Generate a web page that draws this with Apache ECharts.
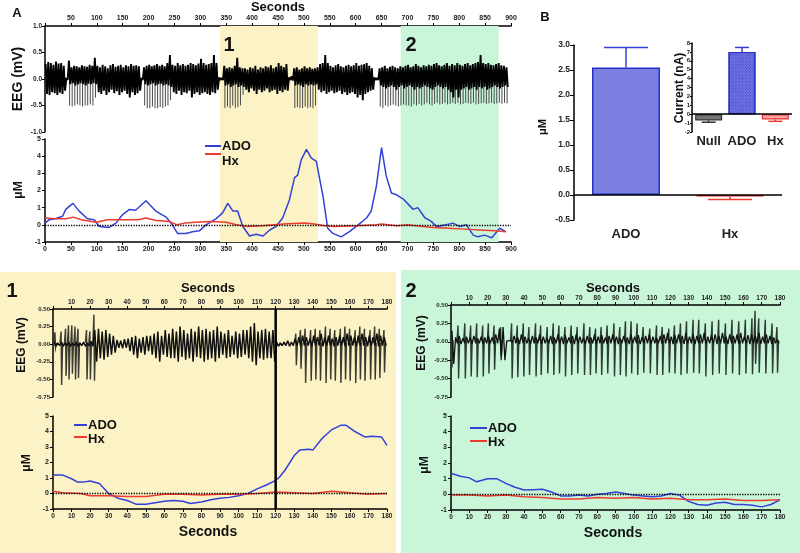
<!DOCTYPE html>
<html><head><meta charset="utf-8">
<script src="https://cdn.jsdelivr.net/npm/echarts@6/dist/echarts.min.js"></script>
<style>html,body{margin:0;padding:0;background:#fff}#c{width:800px;height:553px}</style>
</head><body><div id="c"></div>
<script>
// ---------------- DATA ----------------
// Panel A: EEG envelope, 5 s bins (upper / lower edge of dense activity), 0-900 s
const eegA_hi = [0.28,0.32,0.30,0.27,0.33,0.29,0.30,0.25,
0.02,
0.35,0.22,0.25,0.24,0.22,0.26,0.24,0.23,0.27,0.25,
0.40,
0.25,0.22,0.27,0.24,0.20,0.26,0.28,0.23,0.25,0.27,0.22,0.26,0.24,0.28,0.25,0.26,0.24,
0.02,
0.22,0.25,0.27,0.24,0.26,0.28,0.25,0.27,0.24,0.30,0.45,
0.27,0.25,0.30,0.26,0.28,0.25,0.27,0.30,0.28,0.26,0.29,0.38,0.30,0.27,0.28,0.30,0.45,0.30,
0.03,0.02,
0.25,0.20,0.22,0.20,0.25,0.40,0.22,0.20,
0.20,0.18,0.22,0.20,0.25,0.18,0.22,0.20,0.24,0.22,0.26,0.20,0.23,0.30,0.25,0.22,0.28,
0.03,0.05,
0.20,0.22,0.18,0.20,0.24,0.20,0.22,0.19,0.20,
0.22,0.28,0.30,0.45,0.30,0.25,0.22,0.26,0.28,0.24,0.22,0.25,0.27,0.24,0.26,0.30,0.25,0.27,0.28,0.30,0.25,0.20,
0.03,0.02,
0.20,0.22,0.25,0.20,0.23,0.25,0.22,0.20,0.24,0.22,0.25,0.27,0.22,0.24,0.28,0.25,0.22,0.26,0.24,0.27,0.25,0.28,0.30,0.26,0.24,0.27,0.30,0.25,0.28,0.26,0.30,0.27,0.25,0.28,0.30,0.26,0.28,0.30,0.32,0.45,0.30,0.28,0.30,0.27,0.26,0.28,0.30,0.26,0.25,0.22,
null];
const eegA_lo = [-0.28,-0.30,-0.25,-0.27,-0.30,-0.26,-0.28,-0.22,
-0.02,
-0.10,-0.08,-0.12,-0.10,-0.08,-0.10,-0.12,-0.09,-0.10,-0.08,
-0.10,
-0.25,-0.28,-0.22,-0.30,-0.25,-0.20,-0.27,-0.23,-0.30,-0.25,-0.22,-0.28,-0.35,-0.25,-0.30,-0.27,-0.22,
-0.02,
-0.10,-0.12,-0.10,-0.08,-0.12,-0.10,-0.09,-0.12,-0.10,-0.12,-0.15,
-0.25,-0.28,-0.22,-0.30,-0.25,-0.27,-0.22,-0.35,-0.28,-0.25,-0.30,-0.27,-0.25,-0.28,-0.30,-0.25,-0.27,-0.20,
-0.02,-0.02,
-0.12,-0.10,-0.15,-0.12,-0.10,-0.15,-0.12,-0.15,
-0.20,-0.25,-0.18,-0.22,-0.28,-0.20,-0.25,-0.22,-0.18,-0.25,-0.22,-0.20,-0.28,-0.22,-0.25,-0.20,-0.22,
-0.02,-0.03,
-0.12,-0.10,-0.12,-0.15,-0.10,-0.12,-0.10,-0.12,-0.10,
-0.20,-0.25,-0.22,-0.28,-0.25,-0.22,-0.27,-0.25,-0.22,-0.28,-0.25,-0.30,-0.27,-0.25,-0.28,-0.35,-0.30,-0.40,-0.28,-0.25,-0.22,-0.20,
-0.02,-0.02,
-0.12,-0.15,-0.18,-0.15,-0.12,-0.15,-0.20,-0.15,-0.12,-0.18,-0.15,-0.12,-0.15,-0.20,-0.15,-0.18,-0.15,-0.12,-0.15,-0.18,-0.20,-0.15,-0.12,-0.15,-0.18,-0.15,-0.20,-0.25,-0.35,-0.20,-0.35,-0.20,-0.18,-0.15,-0.20,-0.18,-0.15,-0.20,-0.15,-0.18,-0.15,-0.20,-0.18,-0.15,-0.12,-0.15,-0.18,-0.15,-0.12,-0.15,
null];
// Panel A: spike-wave discharge minima [s, mV]
const eegA_spikes = [
[47.5,-0.50],[52.5,-0.52],[57.5,-0.50],[62.5,-0.48],[67.5,-0.50],[72.5,-0.52],[77.5,-0.50],[82.5,-0.50],[87.5,-0.48],[92.5,-0.50],[97.5,-0.35],
[192.5,-0.50],[197.5,-0.55],[202.5,-0.55],[207.5,-0.52],[212.5,-0.55],[217.5,-0.55],[222.5,-0.53],[227.5,-0.55],[232.5,-0.52],[237.5,-0.50],[242.5,-0.40],
[347.5,-0.55],[352.5,-0.52],[357.5,-0.55],[362.5,-0.50],[367.5,-0.55],[372.5,-0.53],[377.5,-0.50],[382.5,-0.30],
[482.5,-0.55],[487.5,-0.53],[492.5,-0.55],[497.5,-0.55],[502.5,-0.52],[507.5,-0.55],[512.5,-0.53],[517.5,-0.55],[522.5,-0.50],
[647.5,-0.52],[652.5,-0.55],[657.5,-0.50],[662.5,-0.52],[667.5,-0.50],[672.5,-0.48],[677.5,-0.50],[682.5,-0.52],[687.5,-0.50],[692.5,-0.48],
[697.5,-0.50],[702.5,-0.50],[707.5,-0.52],[712.5,-0.48],[717.5,-0.50],[722.5,-0.47],[727.5,-0.50],[732.5,-0.48],[737.5,-0.45],[742.5,-0.48],
[747.5,-0.50],[752.5,-0.47],[757.5,-0.45],[762.5,-0.48],[767.5,-0.47],[772.5,-0.45],[777.5,-0.48],[782.5,-0.47],[787.5,-0.45],[792.5,-0.47],
[797.5,-0.45],[802.5,-0.48],[807.5,-0.47],[812.5,-0.45],[817.5,-0.46],[822.5,-0.47],[827.5,-0.45],[832.5,-0.48],[837.5,-0.47],[842.5,-0.46],
[847.5,-0.45],[852.5,-0.47],[857.5,-0.46],[862.5,-0.45],[867.5,-0.47],[872.5,-0.46],[877.5,-0.45],[882.5,-0.47],[887.5,-0.45],[892.5,-0.46]];
// Panel A: concentration traces [s, uM]
const adoA = [[0,0.1],[8,0.3],[20,0.35],[34,0.5],[40,0.9],[54,1.25],[66,0.8],[82,0.35],[95,0.3],[105,-0.1],[124,-0.15],[137,0.1],[150,0.6],[163,0.9],[175,0.85],[195,1.4],[214,0.8],[234,0.45],[246,0],[256,-0.5],[272,-0.5],[285,-0.4],[298,-0.35],[311,0],[330,0.35],[343,0.7],[353,1.25],[363,0.8],[372,0.8],[382,-0.1],[395,-0.65],[408,-0.55],[421,-0.65],[434,-0.3],[446,-0.1],[459,0.4],[472,1.45],[482,2.75],[488,2.9],[495,3.8],[505,4.4],[514,3.9],[524,3.7],[537,1.65],[546,-0.2],[556,-0.5],[572,-0.7],[588,-0.4],[605,0],[621,0.4],[630,0.8],[640,2.25],[650,4.5],[659,2.85],[669,1.85],[679,1.75],[692,1.5],[711,0.9],[720,1.0],[734,0.4],[746,0.2],[756,-0.1],[775,0],[788,0.1],[801,-0.1],[814,0],[827,-0.6],[836,-0.7],[849,-0.6],[863,-0.75],[878,-0.2],[890,-0.4]];
const hxA = [[0,0.4],[20,0.35],[40,0.35],[55,0.45],[70,0.3],[90,0.2],[100,0.15],[120,0.3],[150,0.3],[180,0.3],[195,0.4],[215,0.25],[240,0.2],[255,0],[270,0.1],[290,0.15],[320,0.2],[350,0.15],[370,0],[390,-0.1],[420,-0.05],[460,0.05],[500,0.1],[520,0.05],[540,-0.05],[560,-0.1],[600,-0.05],[640,0],[650,0.05],[680,-0.05],[700,0],[730,-0.1],[750,-0.15],[780,-0.2],[810,-0.25],[840,-0.3],[870,-0.35],[890,-0.4]];
const shadeA = [[338,527],[687,876]];

// Panel B
const bCats = ['ADO','Hx'];
const bVals = [2.55,-0.03];
const bErr  = [2.95,-0.09];
const inCats = ['Null','ADO','Hx'];
const inVals = [-0.7,7.0,-0.6];
const inErr  = [-0.9,7.5,-0.8];

// Panel 1: EEG envelope, 2 s bins, 0-180 s
const eeg1_hi = [0.03,0.02,0.03,0.02,0.03,0.02,0.03,0.02,0.03,0.02,0.04,
0.20,
0.22,0.18,0.20,0.15,0.12,
0.06,0.05,0.07,
0.08,0.10,0.12,0.08,0.10,0.12,
0.12,0.15,0.18,0.12,0.20,0.15,
0.22,0.18,0.25,0.20,0.15,0.22,0.18,0.25,0.20,0.22,0.18,0.20,0.25,
0.18,0.15,0.20,0.12,0.18,0.15,0.20,
0.20,0.25,0.30,0.18,0.20,0.22,0.18,0.20,
0.03,0.02,0.03,0.05,0.03,
0.08,0.10,0.12,0.10,0.08,0.12,0.10,0.15,0.10,0.12,0.08,0.10,0.12,0.10,0.15,0.12,0.10,0.12,0.15,0.10,0.12,0.10,0.15,0.12,0.10];
const eeg1_lo = [-0.03,-0.02,-0.03,-0.02,-0.03,-0.02,-0.03,-0.02,-0.03,-0.02,-0.03,
-0.25,
-0.20,-0.22,-0.18,-0.15,-0.12,
-0.05,-0.06,-0.05,
-0.10,-0.15,-0.20,-0.12,-0.15,-0.10,
-0.15,-0.20,-0.25,-0.15,-0.18,-0.20,
-0.20,-0.25,-0.18,-0.22,-0.20,-0.25,-0.18,-0.20,-0.25,-0.22,-0.20,-0.25,-0.20,
-0.15,-0.20,-0.18,-0.15,-0.20,-0.18,-0.15,
-0.20,-0.25,-0.30,-0.20,-0.22,-0.20,-0.20,-0.25,
-0.03,-0.02,-0.02,-0.03,-0.02,
-0.02,-0.03,-0.02,-0.02,-0.03,-0.02,-0.02,-0.03,-0.02,-0.02,-0.03,-0.02,-0.02,-0.03,-0.02,-0.02,-0.03,-0.02,-0.02,-0.03,-0.02,-0.02,-0.03,-0.02,-0.02];
// Panel 1: individual spike-wave complexes [s, peak mV, trough mV]
const eeg1_spikes = [[1.2,0.17,-0.05],[4.5,0.18,-0.58],[6.9,0.22,-0.45],[8.5,0.27,-0.50],[10.3,0.27,-0.42],[12.0,0.25,-0.50],[13.6,0.22,-0.48],[18.2,0.20,-0.50],[20.0,0.18,-0.50],[22.2,0.42,-0.52],
[131,0.15,-0.30],[133.5,0.20,-0.35],[136,0.22,-0.55],[139,0.20,-0.52],[141.5,0.22,-0.50],[144,0.20,-0.52],[147,0.25,-0.55],[149.5,0.22,-0.50],[152,0.20,-0.52],[155,0.22,-0.55],[157.5,0.25,-0.50],[160,0.22,-0.52],[163,0.20,-0.55],[165.5,0.25,-0.50],[168,0.22,-0.52],[171,0.20,-0.50],[173.5,0.25,-0.50],[176,0.22,-0.48],[178.5,0.20,-0.40]];
const divider1 = [[120,0]];
const ado1 = [[0,1.2],[5,1.2],[10,0.95],[13,0.75],[17,0.75],[20,0.8],[25,0.65],[30,0],[35,-0.3],[40,-0.45],[45,-0.7],[50,-0.7],[55,-0.6],[60,-0.5],[65,-0.45],[70,-0.5],[74,-0.65],[80,-0.55],[85,-0.4],[90,-0.3],[95,-0.25],[100,-0.15],[105,0],[110,0.3],[115,0.55],[120,0.85],[122,1.05],[125,1.5],[130,2.45],[133,2.8],[138,2.85],[140,2.8],[145,3.55],[150,4.1],[155,4.4],[158,4.4],[162,4.05],[168,3.65],[172,3.7],[177,3.65],[180,3.1]];
const hx1 = [[0,0.15],[5,0.05],[15,0],[20,-0.15],[30,-0.15],[40,-0.2],[50,-0.2],[60,-0.05],[70,-0.05],[80,-0.1],[90,-0.05],[100,-0.05],[110,0],[120,0.1],[130,0.05],[140,0],[150,0.15],[160,0.05],[170,-0.05],[180,0]];

// Panel 2
const eeg2_hi = [0.15,0.06,0.08,0.05,0.07,0.06,0.08,0.05,0.07,0.06,0.08,0.06,0.10,
0.18,0.20,
0.01,0.02,
0.08,0.06,0.10,0.07,0.05,0.08,0.06,0.10,0.07,0.05,
0.08,0.06,0.10,0.07,0.09,0.06,0.08,0.10,0.07,0.05,
0.08,0.06,0.10,0.07,0.09,0.06,0.08,0.10,0.07,0.05,
0.08,0.06,0.10,0.07,0.09,0.06,0.08,0.10,0.07,0.05,
0.08,0.10,0.12,0.07,0.09,0.10,0.08,0.12,0.07,0.10,
0.08,0.10,0.12,0.07,0.09,0.10,0.08,0.12,0.07,0.10,
0.08,0.10,0.12,0.07,0.09,0.10,0.08,0.12,0.07,0.10,
0.08,0.06,0.03];
const eeg2_lo = [-0.30,-0.02,-0.03,-0.02,-0.02,-0.03,-0.02,-0.02,-0.03,-0.02,-0.02,-0.03,-0.02,
-0.20,-0.25,
-0.01,-0.01,
-0.02,-0.03,-0.02,-0.02,-0.03,-0.02,-0.02,-0.03,-0.02,-0.02,
-0.03,-0.02,-0.02,-0.03,-0.02,-0.02,-0.03,-0.02,-0.02,-0.03,
-0.02,-0.02,-0.03,-0.02,-0.02,-0.03,-0.02,-0.02,-0.03,-0.02,
-0.02,-0.03,-0.02,-0.02,-0.03,-0.02,-0.02,-0.03,-0.02,-0.02,
-0.03,-0.02,-0.02,-0.03,-0.02,-0.02,-0.03,-0.02,-0.02,-0.03,
-0.02,-0.02,-0.03,-0.02,-0.02,-0.03,-0.02,-0.02,-0.03,-0.02,
-0.02,-0.03,-0.02,-0.02,-0.03,-0.02,-0.02,-0.03,-0.02,-0.02,
-0.03,-0.02,-0.02];
const eeg2_spikes = [[0.4,0.15,-0.35],[4.0,0.22,-0.50],[7.7,0.25,-0.50],[10.9,0.22,-0.47],[14.2,0.25,-0.48],[17.5,0.22,-0.47],[20.6,0.25,-0.43],[23.7,0.22,-0.38],[27.3,0.20,-0.25],
[33.3,0.25,-0.50],[36.4,0.22,-0.48],[39.7,0.25,-0.47],[42.8,0.20,-0.45],[46.4,0.25,-0.47],[49.2,0.22,-0.45],[52.8,0.20,-0.43],[56.1,0.25,-0.45],[59.2,0.22,-0.43],[62.5,0.20,-0.47],[65.9,0.22,-0.45],[69.2,0.20,-0.43],[72.9,0.25,-0.45],[76.1,0.20,-0.45],[79.2,0.18,-0.43],[82.3,0.20,-0.45],[85.6,0.22,-0.43],[89.3,0.25,-0.47],[92.5,0.20,-0.45],[95.6,0.28,-0.47],[98.7,0.28,-0.43],[102.0,0.25,-0.45],[105.3,0.20,-0.42],[108.9,0.18,-0.43],[112.6,0.22,-0.45],[115.7,0.20,-0.45],[119.3,0.18,-0.42],[122.4,0.22,-0.43],[125.7,0.25,-0.45],[129.0,0.28,-0.43],[132.6,0.30,-0.42],[135.7,0.30,-0.43],[139.3,0.25,-0.47],[143.0,0.28,-0.45],[146.6,0.30,-0.43],[150.3,0.25,-0.45],[153.9,0.30,-0.43],[157.6,0.28,-0.45],[161.2,0.30,-0.43],[164.8,0.32,-0.44],[166.5,0.42,-0.30],[168.5,0.32,-0.42],[172.1,0.30,-0.43],[175.8,0.25,-0.43],[178.5,0.20,-0.42]];
const ado2 = [[0,1.35],[5,1.15],[10,1.05],[14,0.8],[20,1.0],[25,1.0],[30,0.7],[35,0.45],[40,0.28],[45,0.3],[50,0.32],[55,0.15],[60,-0.1],[65,-0.1],[70,-0.05],[75,-0.1],[80,0],[85,0.05],[90,0.15],[95,0.05],[100,-0.05],[105,-0.1],[110,-0.15],[115,-0.1],[120,0.05],[125,-0.05],[130,-0.45],[135,-0.65],[140,-0.7],[145,-0.55],[150,-0.5],[155,-0.65],[160,-0.65],[165,-0.7],[170,-0.8],[175,-0.65],[180,-0.35]];
const hx2 = [[0,-0.05],[10,-0.05],[20,-0.1],[30,-0.05],[40,-0.15],[50,-0.2],[60,-0.3],[70,-0.3],[80,-0.2],[90,-0.25],[100,-0.2],[110,-0.3],[120,-0.25],[130,-0.35],[140,-0.35],[150,-0.3],[160,-0.4],[170,-0.4],[180,-0.35]];

// ---------------- STYLE / HELPERS ----------------
const FONT = '"Liberation Sans", Arial, Helvetica, sans-serif';
const BLUE = '#3440d6', RED = '#ee3b2e';
const YEL = '#fbf3c6', GRN = '#c9f6d9';

function zig(hi, lo, t0, step) {
  const d = [];
  for (let i = 0; i < hi.length; i++) {
    const t = t0 + i * step;
    if (hi[i] == null) { d.push([t + step / 2, null]); continue; }
    d.push([t + step * 0.25, hi[i]]);
    d.push([t + step * 0.75, lo[i]]);
  }
  return d;
}
function grid(l, t, w, h) { return {left: l, top: t, width: w, height: h, containLabel: false, outerBoundsMode: 'none'}; }
const lab = (size, fmt, margin) => ({show: true, interval: 0, fontSize: size, fontWeight: 'bold', color: '#222', fontFamily: FONT, margin: margin, formatter: fmt});
function vAxis(gi, min, max, iv, pos, size, fmt, margin, tick) {
  return {type: 'value', gridIndex: gi, min, max, interval: iv, position: pos,
    axisLine: {show: true, onZero: false, lineStyle: {color: '#000', width: 1.5}},
    axisTick: {show: true, length: tick || 3, lineStyle: {color: '#000', width: 1}},
    splitLine: {show: false}, axisLabel: lab(size, fmt, margin)};
}
function hidden(gi, min, max) { return {type: 'value', gridIndex: gi, min, max, show: false, splitLine: {show: false}}; }
const noZero = v => (v === 0 ? '' : String(v));
const f1 = v => v.toFixed(1), f2 = v => v.toFixed(2), plain = v => String(v);

function txt(x, y, text, size, rot, align) {
  return {type: 'text', x, y, rotation: rot ? Math.PI / 2 : 0, z: 50,
    style: {text, font: 'bold ' + size + 'px ' + FONT, fill: '#111',
      textAlign: align || 'center', align: align || 'center', textVerticalAlign: 'middle', verticalAlign: 'middle'}};
}
function seg(x1, y1, x2, y2, c) { return {type: 'line', z: 50, shape: {x1, y1, x2, y2}, style: {stroke: c, lineWidth: 2}}; }

const lineS = (xi, data, color) => ({type: 'line', xAxisIndex: xi, yAxisIndex: xi, data, symbol: 'none', showSymbol: false,
  lineStyle: {color, width: 1.5}, silent: true});
const zeroDots = {silent: true, symbol: ['none', 'none'], label: {show: false},
  lineStyle: {type: 'dotted', color: '#000', width: 1.3}, data: [{yAxis: 0}]};
const zeroSolid = {silent: true, symbol: ['none', 'none'], label: {show: false},
  lineStyle: {type: 'solid', color: '#000', width: 1.5}, data: [{yAxis: 0}]};

function eegLine(xi, data, color, w) {
  return {type: 'line', xAxisIndex: xi, yAxisIndex: xi, data, symbol: 'none', showSymbol: false,
    connectNulls: false, lineStyle: {color, width: w}, silent: true};
}
function spikeLinesA(xi, data) {
  return {type: 'custom', xAxisIndex: xi, yAxisIndex: xi, data, silent: true, encode: {x: 0, y: 1},
    renderItem: (p, api) => {
      const a = api.coord([api.value(0), 0]), b = api.coord([api.value(0), api.value(1)]);
      return {type: 'line', shape: {x1: a[0], y1: a[1], x2: b[0], y2: b[1]}, style: {stroke: '#4a4a4a', lineWidth: 1}};
    }};
}
function spikeComplex(xi, data, color) {
  return {type: 'custom', xAxisIndex: xi, yAxisIndex: xi, data, silent: true, encode: {x: 0, y: 1},
    renderItem: (p, api) => {
      const t = api.value(0), h = api.value(1), l = api.value(2);
      const pts = [[t - 0.7, 0.02], [t - 0.15, h], [t + 0.15, l], [t + 0.7, 0.02]].map(q => api.coord(q));
      return {type: 'polyline', shape: {points: pts}, style: {stroke: color, lineWidth: 1.4, fill: null}};
    }};
}
function errBars(xi, data, colors, half) {
  return {type: 'custom', xAxisIndex: xi, yAxisIndex: xi, data, silent: true, z: 3, encode: {x: 0, y: 1},
    renderItem: (p, api) => {
      const i = api.value(0);
      const a = api.coord([i, api.value(1)]), b = api.coord([i, api.value(2)]);
      const c = colors[p.dataIndex];
      return {type: 'group', children: [
        {type: 'line', shape: {x1: a[0], y1: a[1], x2: b[0], y2: b[1]}, style: {stroke: c, lineWidth: 1.5}},
        {type: 'line', shape: {x1: b[0] - half, y1: b[1], x2: b[0] + half, y2: b[1]}, style: {stroke: c, lineWidth: 1.5}}]};
    }};
}

const bStyles = [{color: '#7b80e0', borderColor: '#2430c8', borderWidth: 1.5}, {color: '#d92020', borderColor: '#d92020', borderWidth: 1}];
const inStyles = [{color: '#777', borderColor: '#333', borderWidth: 1.2},
  {color: '#6f74e6', borderColor: '#2430c8', borderWidth: 1.2,
   decal: {symbol: 'rect', symbolSize: 1, dashArrayX: [1, 1], dashArrayY: [1, 1], rotation: Math.PI / 4, color: 'rgba(30,30,150,0.55)'}},
  {color: '#f8a5a5', borderColor: '#e83030', borderWidth: 1.2}];

// ---------------- OPTION ----------------
const option = {
  animation: false,
  backgroundColor: '#fff',
  grid: [
    grid(45, 26, 466, 106),   // 0 A EEG
    grid(45, 139, 466, 103),  // 1 A uM
    grid(45, 26, 466, 216),   // 2 A shading
    grid(574, 45, 208, 175),  // 3 B
    grid(692, 43, 100, 89),   // 4 B inset
    grid(53, 309, 334, 88),   // 5 P1 EEG
    grid(53, 416, 334, 93),   // 6 P1 uM
    grid(53, 309, 334, 200),  // 7 P1 divider
    grid(451, 305, 329, 92),  // 8 P2 EEG
    grid(451, 416, 329, 94)   // 9 P2 uM
  ],
  xAxis: [
    vAxis(0, 0, 900, 50, 'top', 7, noZero, 4),
    vAxis(1, 0, 900, 50, 'bottom', 7, plain, 4),
    hidden(2, 0, 900),
    {type: 'category', gridIndex: 3, data: bCats, axisLine: {show: false, onZero: false}, axisTick: {show: false},
      axisLabel: lab(13, null, 8)},
    {type: 'category', gridIndex: 4, data: inCats, axisLine: {show: false, onZero: false}, axisTick: {show: false},
      axisLabel: lab(13, null, 3)},
    vAxis(5, 0, 180, 10, 'top', 6.5, noZero, 3),
    vAxis(6, 0, 180, 10, 'bottom', 6.5, plain, 4),
    hidden(7, 0, 180),
    vAxis(8, 0, 180, 10, 'top', 6.5, noZero, 3),
    vAxis(9, 0, 180, 10, 'bottom', 6.5, plain, 4)
  ],
  yAxis: [
    vAxis(0, -1, 1, 0.5, 'left', 6.5, f1, 3),
    vAxis(1, -1, 5, 1, 'left', 7, plain, 4),
    hidden(2, 0, 1),
    vAxis(3, -0.5, 3, 0.5, 'left', 8.5, f1, 4, 4),
    vAxis(4, -2, 8, 1, 'left', 6, plain, 2, 2),
    vAxis(5, -0.75, 0.5, 0.25, 'left', 6, f2, 3),
    vAxis(6, -1, 5, 1, 'left', 7, plain, 4),
    hidden(7, 0, 1),
    vAxis(8, -0.75, 0.5, 0.25, 'left', 6, f2, 3),
    vAxis(9, -1, 5, 1, 'left', 7, plain, 4)
  ],
  graphic: {elements: [
    {type: 'rect', z: -10, shape: {x: 0, y: 272, width: 396, height: 281}, style: {fill: YEL}},
    {type: 'rect', z: -10, shape: {x: 401, y: 270, width: 399, height: 283}, style: {fill: GRN}},
    txt(17, 13, 'A', 13), txt(278, 7, 'Seconds', 13),
    txt(18, 79, 'EEG (mV)', 14, true), txt(19, 190, 'μM', 12, true),
    txt(229, 45, '1', 20), txt(411, 45, '2', 20),
    seg(205, 146, 221, 146, BLUE), txt(222, 146, 'ADO', 13, false, 'left'),
    seg(205, 154, 221, 154, RED), txt(222, 161, 'Hx', 13, false, 'left'),
    txt(545, 17, 'B', 13), txt(543, 127, 'μM', 11, true), txt(680, 88, 'Current (nA)', 12, true),
    txt(12, 291, '1', 20), txt(411, 291, '2', 20),
    txt(208, 288, 'Seconds', 13), txt(613, 288, 'Seconds', 13),
    txt(22, 345, 'EEG (mV)', 12, true), txt(422, 343, 'EEG (mV)', 12, true),
    txt(27, 463, 'μM', 12, true), txt(425, 465, 'μM', 12, true),
    seg(74, 425, 87, 425, BLUE), txt(88, 425, 'ADO', 13, false, 'left'),
    seg(74, 437, 87, 437, RED), txt(88, 439, 'Hx', 13, false, 'left'),
    seg(470, 428, 487, 428, BLUE), txt(488, 428, 'ADO', 13, false, 'left'),
    seg(470, 441, 487, 441, RED), txt(488, 442, 'Hx', 13, false, 'left'),
    txt(208, 532, 'Seconds', 14), txt(613, 533, 'Seconds', 14)
  ]},
  series: [
    {type: 'custom', xAxisIndex: 2, yAxisIndex: 2, data: shadeA, z: 1, silent: true, encode: {x: [0, 1]},
      renderItem: (p, api) => {
        const a = api.coord([api.value(0), 1]), b = api.coord([api.value(1), 0]);
        return {type: 'rect', shape: {x: a[0], y: a[1], width: b[0] - a[0], height: b[1] - a[1]},
          style: {fill: [YEL, GRN][p.dataIndex]}};
      }},
    spikeLinesA(0, eegA_spikes),
    eegLine(0, zig(eegA_hi, eegA_lo, 0, 5), '#000', 1.9),
    Object.assign(lineS(1, adoA, BLUE), {name: 'ADO', markLine: zeroDots}),
    Object.assign(lineS(1, hxA, RED), {name: 'Hx'}),
    {type: 'bar', xAxisIndex: 3, yAxisIndex: 3, barWidth: 68, silent: true,
      data: bVals.map((v, i) => ({value: v, itemStyle: bStyles[i]})), markLine: zeroSolid},
    errBars(3, bCats.map((c, i) => [i, bVals[i], bErr[i]]), [BLUE, RED], 22),
    {type: 'bar', xAxisIndex: 4, yAxisIndex: 4, barWidth: 27, silent: true,
      data: inVals.map((v, i) => ({value: v, itemStyle: inStyles[i]})), markLine: zeroSolid},
    errBars(4, inCats.map((c, i) => [i, inVals[i], inErr[i]]), ['#333', BLUE, RED], 7),
    spikeComplex(5, eeg1_spikes, '#3a3a30'),
    eegLine(5, zig(eeg1_hi, eeg1_lo, 0, 2), '#111', 1.5),
    Object.assign(lineS(6, ado1, BLUE), {name: 'ADO', markLine: zeroDots}),
    Object.assign(lineS(6, hx1, RED), {name: 'Hx'}),
    {type: 'custom', xAxisIndex: 7, yAxisIndex: 7, data: divider1, silent: true, z: 5, encode: {x: 0, y: 1},
      renderItem: (p, api) => {
        const a = api.coord([api.value(0), 1]), b = api.coord([api.value(0), 0]);
        return {type: 'line', shape: {x1: a[0], y1: a[1], x2: b[0], y2: b[1]}, style: {stroke: '#000', lineWidth: 2.5}};
      }},
    spikeComplex(8, eeg2_spikes, '#2f3a33'),
    eegLine(8, zig(eeg2_hi, eeg2_lo, 0, 2), '#111', 1.3),
    Object.assign(lineS(9, ado2, BLUE), {name: 'ADO', markLine: zeroDots}),
    Object.assign(lineS(9, hx2, RED), {name: 'Hx'})
  ]
};
const chart = echarts.init(document.getElementById('c'), null, {renderer: 'canvas'});
chart.setOption(option);
</script></body></html>
